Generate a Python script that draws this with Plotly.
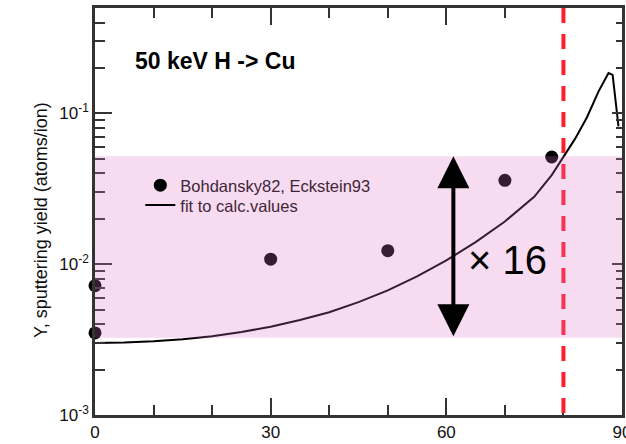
import math
import plotly.graph_objects as go

# Sputtering yield of Cu under 50 keV H, as a function of incidence angle (deg)
fit_angle = [0, 5, 10, 15, 20, 25, 30, 35, 40, 45, 50, 55, 60, 65, 70, 75, 78,
             80, 82, 84, 86, 87.7, 88.4, 89.4]
fit_yield = [0.00300, 0.00302, 0.00308, 0.00318, 0.00333, 0.00355, 0.00385,
             0.00427, 0.00480, 0.00560, 0.00670, 0.00830, 0.0106, 0.0140,
             0.0192, 0.0280, 0.0390, 0.0515, 0.068, 0.094, 0.140, 0.185,
             0.180, 0.082]

exp_angle = [0, 0, 30, 50, 70, 78]
exp_yield = [0.0072, 0.0035, 0.0108, 0.0123, 0.036, 0.0514]

# Shaded yield band and its spread factor
band_top = 0.052
band_ratio = 16
band_bottom = band_top / band_ratio
arrow_angle = 61.2
cutoff_angle = 80

y_ticks = [0.001, 0.01, 0.1]
y_ticktext = ["10<sup>-3</sup>", "10<sup>-2</sup>", "10<sup>-1</sup>"]
y_max = 0.5
y_minor = [k * 10.0 ** e for e in (-3, -2, -1) for k in range(2, 10)
           if k * 10.0 ** e <= y_max]

FONT = "Liberation Sans, Arial, Helvetica, sans-serif"
AXIS_COLOR = "#333333"
y_range = [math.log10(0.001), math.log10(y_max)]

fig = go.Figure()

fig.add_trace(go.Scatter(
    x=fit_angle, y=fit_yield, mode="lines", name="fit to calc.values",
    line=dict(color="black", width=2), legend="legend2",
))
fig.add_trace(go.Scatter(
    x=exp_angle, y=exp_yield, mode="markers", name="Bohdansky82, Eckstein93",
    marker=dict(color="black", size=13), cliponaxis=False, legend="legend",
))
# right-hand axis carries the shorter mirrored ticks
fig.add_trace(go.Scatter(x=[], y=[], yaxis="y2", showlegend=False,
                         hoverinfo="skip"))

shapes = [
    dict(type="line", xref="x", yref="paper", x0=cutoff_angle, x1=cutoff_angle,
         y0=1, y1=0, layer="above",
         line=dict(color="#ff1e2d", width=4, dash="15px,11px")),
    dict(type="rect", xref="paper", yref="y", x0=0, x1=1,
         y0=band_bottom, y1=band_top, layer="above",
         fillcolor="rgba(225,110,195,0.25)", line=dict(width=0)),
]

annotations = [
    dict(text="<b>50 keV H -> Cu</b>", xref="paper", yref="paper",
         x=0.072, y=0.87, xanchor="left", yanchor="middle", showarrow=False,
         font=dict(family=FONT, size=23, color="black")),
    dict(text="Y, sputtering yield (atoms/ion)", xref="paper", yref="paper",
         x=-0.1025, y=0.479, xanchor="center", yanchor="middle",
         textangle=-90, showarrow=False,
         font=dict(family=FONT, size=18, color="#111111")),
    dict(text="", xref="x", yref="y", axref="x", ayref="y",
         x=arrow_angle, y=math.log10(band_top),
         ax=arrow_angle, ay=math.log10(band_bottom),
         showarrow=True, arrowhead=2, startarrowhead=2, arrowside="end+start",
         arrowwidth=4, arrowsize=1.6, startarrowsize=1.6, arrowcolor="black",
         standoff=0, startstandoff=0),
    dict(text=f"\u00d7 {band_ratio}", xref="x", yref="y",
         x=70.4, y=-1.971, xanchor="center", yanchor="middle", showarrow=False,
         font=dict(family=FONT, size=40, color="black")),
]

legend_style = dict(xanchor="left", yanchor="top", bgcolor="rgba(0,0,0,0)",
                    borderwidth=0,
                    font=dict(family=FONT, size=16.5, color="#3f2638"))

fig.update_layout(
    template="none",
    width=626, height=444,
    margin=dict(l=95, r=4, t=8, b=29),
    paper_bgcolor="white", plot_bgcolor="white",
    font=dict(family=FONT, size=17, color="#111111"),
    showlegend=True,
    legend=dict(x=0.086, y=0.607, **legend_style),
    legend2=dict(x=0.086, y=0.558, **legend_style),
    xaxis=dict(
        range=[0, 90], tickmode="linear", tick0=0, dtick=30,
        ticks="inside", ticklen=17, tickwidth=2, tickcolor=AXIS_COLOR,
        minor=dict(tickmode="linear", tick0=0, dtick=10, ticks="inside",
                   ticklen=10, tickwidth=2, tickcolor=AXIS_COLOR),
        showline=True, linecolor=AXIS_COLOR, linewidth=2.5, mirror="ticks",
        showgrid=False, zeroline=False, automargin=False,
        ticklabeloverflow="allow",
        tickfont=dict(size=17, color="#111111"),
    ),
    yaxis=dict(
        type="log", range=y_range, tickmode="array",
        tickvals=y_ticks, ticktext=y_ticktext,
        ticks="inside", ticklen=17, tickwidth=2, tickcolor=AXIS_COLOR,
        minor=dict(tickmode="array", tickvals=y_minor, ticks="inside",
                   ticklen=10, tickwidth=2, tickcolor=AXIS_COLOR),
        showline=True, linecolor=AXIS_COLOR, linewidth=2.5, mirror=False,
        showgrid=False, zeroline=False, automargin=False,
        tickfont=dict(size=17, color="#111111"),
    ),
    yaxis2=dict(
        type="log", range=y_range, overlaying="y", side="right",
        tickmode="array", tickvals=y_ticks, showticklabels=False,
        ticks="inside", ticklen=10, tickwidth=2, tickcolor=AXIS_COLOR,
        minor=dict(tickmode="array", tickvals=y_minor, ticks="inside",
                   ticklen=6, tickwidth=2, tickcolor=AXIS_COLOR),
        showline=True, linecolor=AXIS_COLOR, linewidth=2.5,
        showgrid=False, zeroline=False, automargin=False,
    ),
    shapes=shapes,
    annotations=annotations,
)

fig.write_html("out.html")
